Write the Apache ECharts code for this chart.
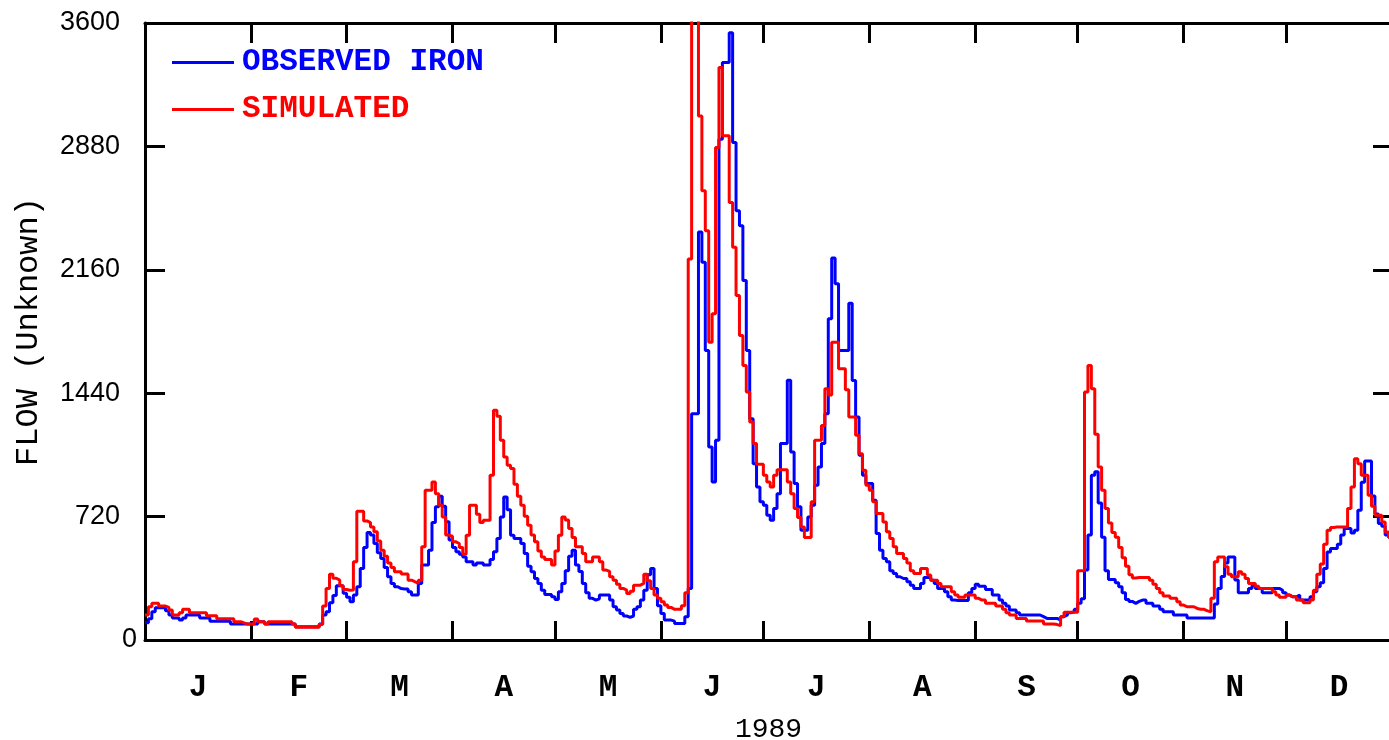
<!DOCTYPE html>
<html>
<head>
<meta charset="utf-8">
<script src="https://cdn.jsdelivr.net/npm/echarts@6/dist/echarts.min.js"></script>
<style>
  html, body { margin: 0; padding: 0; background: #ffffff; }
  #chart { width: 1389px; height: 740px; }
</style>
</head>
<body>
<div id="chart"></div>
<script>
// Daily flow, 1989 (day 0 = 1 January)
const observedIron = [
  // Jan
  101,124,165,188,188,188,170,146,128,128,116,128,146,146,146,146,128,128,128,110,110,110,110,110,110,93,93,93,93,93,93,
  // Feb
  93,93,107,107,93,93,93,93,93,93,93,93,93,78,78,78,78,78,78,78,93,146,165,217,260,316,316,273,
  // Mar
  250,223,262,311,417,540,627,612,563,509,476,423,369,330,311,300,297,297,281,262,262,330,437,437,524,685,777,839,780,690,583,
  // Apr
  540,515,500,485,456,456,437,450,450,437,437,470,515,592,718,835,760,611,592,592,563,505,431,398,359,330,291,266,266,252,
  // May
  237,281,330,404,489,524,437,400,330,276,243,233,240,262,262,262,233,194,175,155,140,132,140,180,194,233,291,380,417,300,200,
  // Jun
  155,116,116,110,97,97,97,136,300,1320,1320,2380,2204,1689,1126,922,1165,2922,3369,3369,3543,2903,2505,2417,2097,1689,1291,1029,893,806,
  // Jul
  786,728,699,767,854,1146,1146,1515,1097,913,777,641,641,718,786,903,1010,1146,1320,1874,2229,2078,1689,1689,1689,1965,1514,1301,1078,961,913,
  // Aug
  913,815,621,524,476,456,404,388,369,359,359,340,320,301,301,330,365,365,349,330,301,301,281,252,233,230,230,230,230,276,301,
  // Sep
  326,314,314,295,295,262,262,233,214,198,175,175,159,146,146,146,146,146,146,136,126,126,126,126,116,136,146,159,165,180,
  // Oct
  214,240,408,612,961,981,800,600,404,353,353,334,311,276,237,225,214,225,233,233,214,214,198,198,179,165,165,165,146,146,146,
  // Nov
  146,128,128,128,128,128,128,128,128,210,300,370,450,485,485,350,276,276,276,300,316,301,301,276,276,276,301,301,290,276,
  // Dec
  262,252,252,262,233,233,233,252,281,310,334,417,514,534,534,559,612,650,650,625,641,757,920,1045,1045,840,735,680,664,612,600
];

const simulated = [
  // Jan
  146,194,215,215,198,198,190,175,146,146,159,180,180,159,159,159,159,159,142,142,142,124,124,124,124,124,107,107,100,93,93,
  // Feb
  93,122,107,107,93,107,107,107,107,107,107,107,93,74,74,74,74,74,74,74,90,198,301,384,360,349,316,295,
  // Mar
  290,291,456,751,751,695,685,660,631,577,524,489,450,423,398,398,385,385,349,340,330,349,544,874,874,922,854,786,718,612,606,
  // Apr
  573,563,540,500,611,786,786,734,685,699,699,961,1340,1305,1165,1068,1019,1000,909,839,786,722,670,612,573,520,485,470,470,437,
  // May
  520,611,718,700,650,598,544,544,505,456,456,485,485,456,408,400,369,349,326,301,291,272,285,320,320,330,384,345,300,262,243,
  // Jun (two days run above the top of the scale)
  223,204,190,179,179,179,200,276,2223,3900,3900,3058,2621,2388,1738,1903,2874,3340,2942,2942,2553,2291,2010,1777,1602,1447,1272,1146,1025,1025,
  // Jul
  961,922,893,961,994,994,994,922,854,767,715,660,598,598,806,1165,1165,1252,1466,1430,1738,1738,1583,1583,1460,1301,1301,1194,1087,990,903,
  // Aug
  874,806,738,738,689,631,592,544,505,505,476,450,404,388,388,417,417,379,349,349,330,311,311,311,281,262,249,249,262,262,262,
  // Sep
  243,233,233,214,214,214,198,198,179,159,146,146,126,126,126,111,111,111,111,111,93,93,93,90,84,136,162,162,162,162,
  // Oct
  404,404,1447,1602,1466,1200,1010,874,767,683,627,600,540,480,430,380,362,365,365,365,365,349,326,301,276,256,256,243,243,223,204,
  // Nov
  194,194,194,184,179,179,170,165,243,456,485,485,427,384,369,369,398,384,359,330,330,314,301,301,301,301,281,262,249,249,
  // Dec
  262,252,252,233,233,217,217,233,291,384,443,559,641,656,660,660,660,660,767,893,1058,1029,961,961,845,781,728,728,689,630,600
];

const monthLetters = ['J', 'F', 'M', 'A', 'M', 'J', 'J', 'A', 'S', 'O', 'N', 'D'];
const monthStartDays = [0, 31, 59, 90, 120, 151, 181, 212, 243, 273, 304, 334, 365];
const yearLabel = '1989';
const seriesNames = ['OBSERVED IRON', 'SIMULATED'];
const yAxisTitle = 'FLOW (Unknown)';
const yMax = 3600;
const yStep = 720;

// each daily value holds from the start of its day to the start of the next
function toSteps(values) {
  const pts = values.map((v, d) => [d, v]);
  pts.push([values.length, values[values.length - 1]]);
  return pts;
}

const innerTicks = monthStartDays.slice(1, -1);
const monthMids = monthLetters.map((_, i) => (monthStartDays[i] + monthStartDays[i + 1]) / 2);

const BLUE = '#0000ff';
const RED = '#ff0000';
const BLACK = '#000000';
const MONO = '"Liberation Mono", "DejaVu Sans Mono", monospace';
const SANS = '"Liberation Sans", Arial, sans-serif';

const frameLine = { show: true, onZero: false, lineStyle: { color: BLACK, width: 3 } };

const chart = echarts.init(document.getElementById('chart'), null, { renderer: 'canvas' });

chart.setOption({
  animation: false,
  backgroundColor: '#ffffff',
  grid: { left: 145, right: -3, top: 23, bottom: 100, containLabel: false, outerBoundsMode: 'none' },
  legend: {
    orient: 'vertical',
    left: 167,
    top: 42,
    icon: 'rect',
    itemWidth: 62,
    itemHeight: 3,
    itemGap: 16,
    selectedMode: false,
    textStyle: { fontFamily: MONO, fontSize: 31, fontWeight: 'bold', lineHeight: 24, padding: [0, 0, 0, 3] },
    data: [
      { name: seriesNames[0], textStyle: { color: BLUE } },
      { name: seriesNames[1], textStyle: { color: RED } }
    ]
  },
  xAxis: [
    {
      type: 'value',
      position: 'bottom',
      min: 0,
      max: 365,
      axisLine: frameLine,
      splitLine: { show: false },
      axisTick: {
        show: true, inside: true, length: 19,
        customValues: innerTicks,
        lineStyle: { color: BLACK, width: 3 }
      },
      axisLabel: {
        show: true,
        customValues: monthMids,
        margin: 33,
        fontFamily: MONO,
        fontSize: 31,
        fontWeight: 'bold',
        color: BLACK,
        formatter: function (v) {
          const i = monthMids.indexOf(v);
          return i >= 0 ? monthLetters[i] : '';
        }
      },
      name: yearLabel,
      nameLocation: 'middle',
      nameGap: 76,
      nameTextStyle: { fontFamily: MONO, fontSize: 28, color: BLACK }
    },
    {
      type: 'value',
      position: 'top',
      min: 0,
      max: 365,
      axisLine: frameLine,
      splitLine: { show: false },
      axisTick: {
        show: true, inside: true, length: 20,
        customValues: innerTicks,
        lineStyle: { color: BLACK, width: 3 }
      },
      axisLabel: { show: false }
    }
  ],
  yAxis: [
    {
      type: 'value',
      position: 'left',
      min: 0,
      max: yMax,
      interval: yStep,
      axisLine: frameLine,
      splitLine: { show: false },
      axisTick: { show: true, inside: true, length: 20, lineStyle: { color: BLACK, width: 3 } },
      axisLabel: {
        margin: 8,
        fontFamily: SANS,
        fontSize: 27,
        color: BLACK,
        formatter: function (v) { return v === 0 ? '0' : '{p|' + v + '}'; },
        rich: { p: { fontFamily: SANS, fontSize: 27, color: BLACK, padding: [0, 17, 0, 0] } }
      },
      name: yAxisTitle,
      nameLocation: 'middle',
      nameGap: 100,
      nameRotate: 90,
      nameTextStyle: { fontFamily: MONO, fontSize: 32, color: BLACK }
    },
    {
      type: 'value',
      position: 'right',
      min: 0,
      max: yMax,
      interval: yStep,
      axisLine: frameLine,
      splitLine: { show: false },
      axisTick: { show: true, inside: true, length: 19, lineStyle: { color: BLACK, width: 3 } },
      axisLabel: { show: false }
    }
  ],
  series: [
    {
      name: seriesNames[0],
      type: 'line',
      step: 'end',
      xAxisIndex: 0,
      yAxisIndex: 0,
      symbol: 'none',
      clip: true,
      color: BLUE,
      lineStyle: { color: BLUE, width: 3 },
      data: toSteps(observedIron),
      z: 2
    },
    {
      name: seriesNames[1],
      type: 'line',
      step: 'end',
      xAxisIndex: 0,
      yAxisIndex: 0,
      symbol: 'none',
      clip: true,
      color: RED,
      lineStyle: { color: RED, width: 3 },
      data: toSteps(simulated),
      z: 3
    }
  ]
});
</script>
</body>
</html>
